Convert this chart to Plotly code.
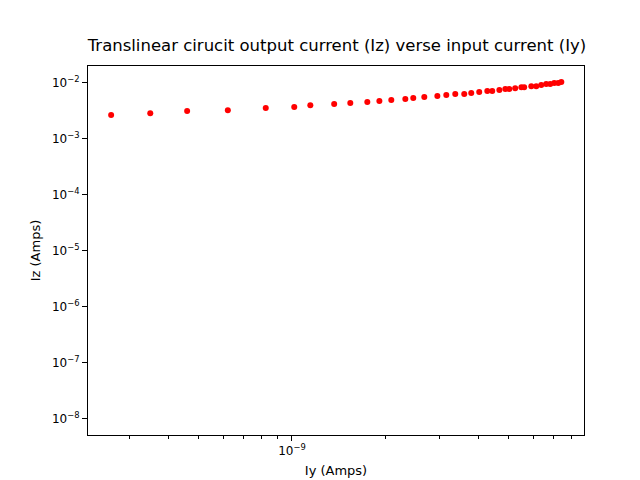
import plotly.graph_objects as go

# input current Iy (units of 1e-9 A) and output current Iz (units of 1e-3 A)
iy_nA = [0.261, 0.349, 0.459, 0.621, 0.823, 1.017, 1.146, 1.368, 1.542, 1.750,
         1.914, 2.091, 2.321, 2.462, 2.672, 2.944, 3.146, 3.363, 3.595, 3.787,
         4.018, 4.266, 4.426, 4.667, 4.877, 5.023, 5.248, 5.495, 5.610, 5.916,
         6.138, 6.368, 6.607, 6.808, 7.015, 7.227, 7.393]
iz_mA = [2.65, 2.87, 3.12, 3.25, 3.53, 3.68, 3.99, 4.17, 4.34, 4.52,
         4.71, 4.91, 5.12, 5.33, 5.56, 5.79, 6.03, 6.28, 6.28, 6.55,
         6.82, 7.11, 7.11, 7.40, 7.71, 7.71, 8.03, 8.37, 8.37, 8.72,
         8.72, 9.09, 9.47, 9.47, 9.88, 9.88, 10.3]
y_exps = [-8, -7, -6, -5, -4, -3, -2]

iy = [v * 1e-9 for v in iy_nA]
iz = [v * 1e-3 for v in iz_mA]

minor_x = [m * 1e-10 for m in range(3, 10)] + [m * 1e-9 for m in range(2, 9)]

fig = go.Figure(go.Scatter(
    x=iy, y=iz, mode="markers",
    marker=dict(color="red", size=6),
))

axis_common = dict(
    type="log", showgrid=False, zeroline=False, showline=True, mirror=True,
    linecolor="black", linewidth=1, ticks="outside", ticklen=5,
    tickcolor="black", tickfont=dict(size=12), automargin=False,
)
fig.update_xaxes(
    **axis_common, range=[-9.658, -8.058],
    tickvals=[1e-9], ticktext=["10<sup>\u22129</sup>"],
    minor=dict(tickvals=minor_x, ticks="outside", ticklen=3, tickcolor="black"),
    title=dict(text="Iy (Amps)", font=dict(size=13), standoff=8),
)
fig.update_yaxes(
    **axis_common, range=[-8.29, -1.70],
    tickvals=[10.0 ** e for e in y_exps],
    ticktext=[f"10<sup>\u2212{-e}</sup>" for e in y_exps],
    title=dict(text="Iz (Amps)", font=dict(size=13), standoff=8),
)
fig.update_layout(
    width=640, height=480,
    margin=dict(l=80, r=64, t=58, b=53),
    paper_bgcolor="white", plot_bgcolor="white",
    font=dict(family="DejaVu Sans", color="black"),
    title=dict(text="Translinear cirucit output current (Iz) verse input current (Iy)",
               x=0.514, xanchor="center", y=0.935, yanchor="top", font=dict(size=16.5)),
    showlegend=False,
)

fig.write_html("out.html")
